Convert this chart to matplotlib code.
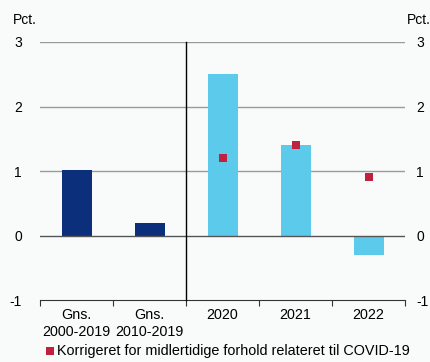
import matplotlib.pyplot as plt
import numpy as np

plt.rcParams['font.family'] = ['Liberation Sans', 'DejaVu Sans']

# data
categories = ["Gns.\n2000-2019", "Gns.\n2010-2019", "2020", "2021", "2022"]
values = [1.02, 0.2, 2.5, 1.4, -0.3]
bar_colors = ["#0b2f7a", "#0b2f7a", "#5bcaeb", "#5bcaeb", "#5bcaeb"]
corr_cats = [2, 3, 4]
corr_values = [1.2, 1.4, 0.9]
legend_label = "Korrigeret for midlertidige forhold relateret til COVID-19"
yticks = [-1, 0, 1, 2, 3]

bg = "#f9fafa"
fig = plt.figure(figsize=(4.31, 3.62), dpi=100, facecolor=bg)
ax = fig.add_axes([0.093, 0.171, 0.847, 0.713], facecolor=bg)

x = np.arange(len(categories))
ax.set_xlim(-0.5, len(categories) - 0.5)
ax.set_ylim(-1, 3)

for yv in [1, 2, 3]:
    ax.axhline(yv, color="#9a9a9a", lw=1, zorder=0)
ax.axhline(0, color="#555555", lw=1, zorder=3)

ax.bar(x, values, width=0.41, color=bar_colors, zorder=2)
ax.scatter(corr_cats, corr_values, marker="s", s=40, color="#c0213f", zorder=4,
           label=legend_label, linewidths=0)

# separator between averages and years
ax.plot([1.5, 1.5], [-1, 3], color="black", lw=1, zorder=5, clip_on=False)

for s in ["left", "right", "top"]:
    ax.spines[s].set_visible(False)
ax.spines["bottom"].set_color("#333333")

ax.set_yticks(yticks)
ax.set_yticklabels([str(v) for v in yticks])
ax.tick_params(axis="y", length=0, labelsize=10, pad=13)

# right-hand axis labels
ax2 = ax.twinx()
ax2.set_ylim(ax.get_ylim())
ax2.set_yticks(yticks)
ax2.set_yticklabels([str(v) for v in yticks])
ax2.tick_params(axis="y", length=0, labelsize=10, pad=8)
for s in ax2.spines.values():
    s.set_visible(False)

ax.set_xticks(np.arange(-0.5, len(categories), 1.0))
ax.set_xticklabels([])
ax.tick_params(axis="x", which="major", length=4, direction="out", color="#333333")
ax.set_xticks(x, minor=True)
ax.set_xticklabels(categories, minor=True, fontsize=10.3)
ax.tick_params(axis="x", which="minor", length=0, pad=6)

fig.text(0.03, 0.945, "Pct.", fontsize=10, ha="left", va="center")
fig.text(1.0, 0.945, "Pct.", fontsize=10, ha="right", va="center")

fig.legend(loc="lower center", bbox_to_anchor=(0.525, -0.025), frameon=False,
           fontsize=10.4, handletextpad=0.0, handlelength=1.0, markerscale=0.9)

fig.savefig("out.png", dpi=100, facecolor=bg)
